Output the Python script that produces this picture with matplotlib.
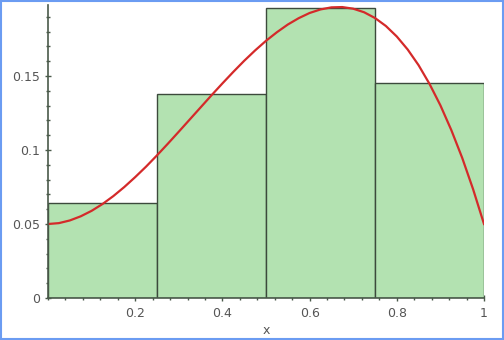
import matplotlib
matplotlib.use("Agg")
import matplotlib.pyplot as plt
from matplotlib.ticker import MultipleLocator, FixedLocator
from matplotlib.patches import Rectangle

# histograma: 4 clases en [0, 1]
bordes = [0.0, 0.25, 0.5, 0.75, 1.0]
alturas = [0.064, 0.138, 0.196, 0.145]

# curva roja (cada 0.025)
curva_x = [0.0, 0.025, 0.05, 0.075, 0.1, 0.125, 0.15, 0.175, 0.2, 0.225,
           0.25, 0.275, 0.3, 0.325, 0.35, 0.375, 0.4, 0.425, 0.45, 0.475,
           0.5, 0.525, 0.55, 0.575, 0.6, 0.625, 0.65, 0.675, 0.7, 0.725,
           0.75, 0.775, 0.8, 0.825, 0.85, 0.875, 0.9, 0.925, 0.95, 0.975, 1.0]
curva_y = [0.0500, 0.0506, 0.0524, 0.0552, 0.0589, 0.0635, 0.0689, 0.0750, 0.0817, 0.0888,
           0.0964, 0.1043, 0.1124, 0.1206, 0.1288, 0.1370, 0.1450, 0.1528, 0.1603, 0.1673,
           0.1738, 0.1796, 0.1848, 0.1891, 0.1926, 0.1950, 0.1964, 0.1966, 0.1955, 0.1931,
           0.1892, 0.1838, 0.1767, 0.1679, 0.1573, 0.1447, 0.1302, 0.1135, 0.0947, 0.0735, 0.0500]

xticks = [0.2, 0.4, 0.6, 0.8, 1.0]
xtick_labels = ["0.2", "0.4", "0.6", "0.8", "1"]
yticks = [0, 0.05, 0.1, 0.15]
ytick_labels = ["0", "0.05", "0.1", "0.15"]

GRIS = "#4a5a4a"
TXT = "#555555"

fig = plt.figure(figsize=(5.04, 3.4), dpi=100)
ax = fig.add_axes([48 / 504, 1 - 298 / 340, 436 / 504, 293 / 340])

anchos = [b - a for a, b in zip(bordes[:-1], bordes[1:])]
ax.bar(bordes[:-1], alturas, width=anchos, align="edge",
       color="#b3e2b1", edgecolor="#3c4a3c", linewidth=1.0, zorder=2)
ax.plot(curva_x, curva_y, color="#d42a2a", linewidth=1.6, zorder=3)

ax.set_xlim(0, 1)
ax.set_ylim(0, 0.198)
for s in ("top", "right"):
    ax.spines[s].set_visible(False)
for s in ("left", "bottom"):
    ax.spines[s].set_color(GRIS)
    ax.spines[s].set_linewidth(1.2)
    ax.spines[s].set_zorder(4)

ax.xaxis.set_major_locator(FixedLocator(xticks))
ax.set_xticklabels(xtick_labels)
ax.xaxis.set_minor_locator(MultipleLocator(0.04))
ax.yaxis.set_major_locator(FixedLocator(yticks))
ax.set_yticklabels(ytick_labels)
ax.yaxis.set_minor_locator(MultipleLocator(0.01))

ax.tick_params(which="both", direction="inout", color=GRIS, labelcolor=TXT,
               labelsize=9, width=1)
ax.tick_params(which="major", length=5)
ax.tick_params(which="minor", length=3)
ax.tick_params(axis="y", pad=3)
ax.tick_params(axis="x", pad=4)

ax.set_xlabel("x", color=TXT, fontsize=9, labelpad=3)

fig.patches.append(Rectangle((0.002, 0.003), 0.996, 0.994, transform=fig.transFigure,
                             fill=False, edgecolor="#6b9cf2", linewidth=1.5))

fig.savefig("out.png", dpi=100, facecolor="white")
